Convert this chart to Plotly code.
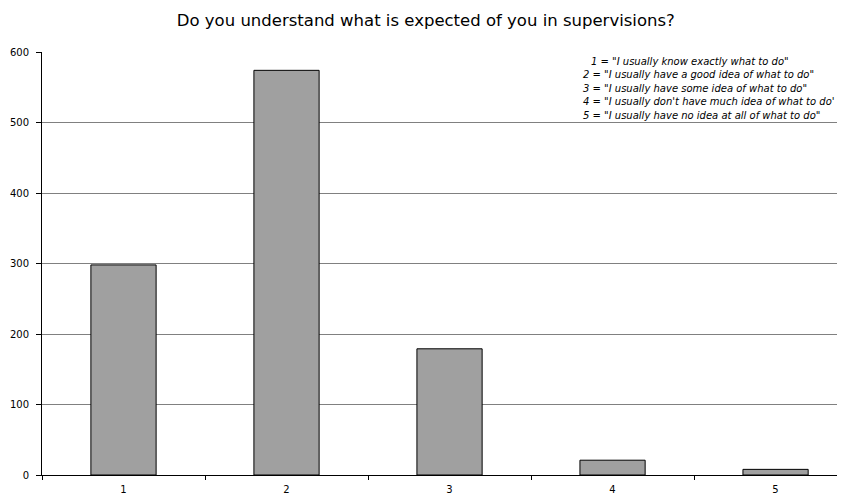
import plotly.graph_objects as go

# -- Dados do grafico
respostas = ['1', '2', '3', '4', '5']
contagens = [298, 574, 179, 21, 8]
legenda = [
    '1 = "I usually know exactly what to do"',
    '2 = "I usually have a good idea of what to do"',
    '3 = "I usually have some idea of what to do"',
    "4 = \"I usually don't have much idea of what to do'",
    '5 = "I usually have no idea at all of what to do"',
]
titulo = 'Do you understand what is expected of you in supervisions?'
y_ticks = [0, 100, 200, 300, 400, 500, 600]


def grafico_barras():
    fig = go.Figure(go.Bar(
        x=respostas,
        y=contagens,
        width=0.4,
        marker=dict(color='#a0a0a0', line=dict(color='#000000', width=1)),
    ))

    # -- Texto explicativo das respostas
    for i, linha in enumerate(legenda):
        x0 = 589 if i == 0 else 581
        fig.add_annotation(
            text=linha, xref='paper', yref='paper',
            x=(x0 - 42) / 803, y=1 - (9 + i * 13.5) / 423,
            xanchor='left', yanchor='middle', showarrow=False,
            font=dict(family='DejaVu Sans', size=10,
                      color='#000000', style='italic'),
        )

    # -- Ajustando layout (a pagina tem margem de 8px no body)
    fig.update_layout(
        width=837, height=489,
        margin=dict(l=34, r=0, t=44, b=22),
        paper_bgcolor='white', plot_bgcolor='white',
        showlegend=False,
        title=dict(text=titulo, xref='paper', x=0.478, xanchor='center',
                   y=0.975, yanchor='middle',
                   font=dict(family='DejaVu Sans', size=16.5, color='#000000')),
    )
    fig.update_xaxes(
        range=[-0.5, 4.426], tickson='boundaries', ticks='outside',
        ticklen=4, tickcolor='#000000', showline=True, linecolor='#000000',
        linewidth=1, showgrid=False, automargin=False, ticklabelstandoff=5,
        tickfont=dict(family='DejaVu Sans', size=10, color='#000000'),
    )
    fig.update_yaxes(
        range=[0, 600], tickvals=y_ticks, ticks='outside', ticklen=5,
        tickcolor='#000000', showline=True, linecolor='#000000', linewidth=1,
        showgrid=True, gridcolor='#808080', gridwidth=1, zeroline=False,
        automargin=False, ticklabelstandoff=5,
        tickfont=dict(family='DejaVu Sans', size=10, color='#000000'),
    )
    return fig


if __name__ == '__main__':
    grafico = grafico_barras()
    grafico.write_html('out.html')
